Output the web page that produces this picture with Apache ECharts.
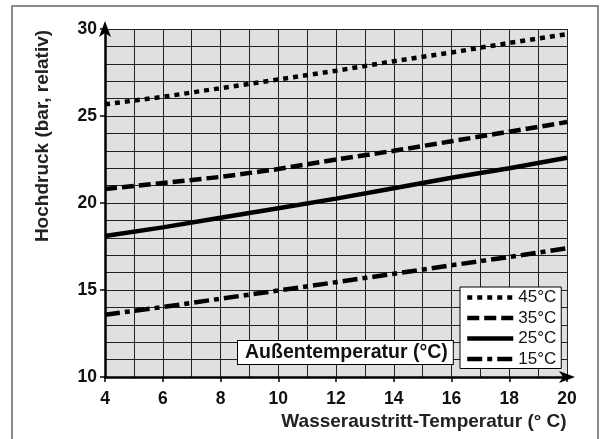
<!DOCTYPE html>
<html>
<head>
<meta charset="utf-8">
<script src="https://cdn.jsdelivr.net/npm/echarts@6/dist/echarts.min.js"></script>
<style>html,body{margin:0;padding:0;background:#fff;}#c{width:605px;height:439px;}</style>
</head>
<body>
<div id="c"></div>
<script>
// Data
const xValues = [4, 6, 8, 10, 12, 14, 16, 18, 20];
const s45 = [25.67, 26.1, 26.6, 27.1, 27.6, 28.15, 28.65, 29.2, 29.7];
const s35 = [20.8, 21.15, 21.5, 21.95, 22.5, 23.0, 23.55, 24.1, 24.65];
const s25 = [18.1, 18.6, 19.15, 19.7, 20.25, 20.85, 21.45, 22.0, 22.6];
const s15 = [13.58, 14.02, 14.5, 14.97, 15.45, 15.93, 16.42, 16.9, 17.4];
const seriesNames = ['45°C', '35°C', '25°C', '15°C'];
const xTicks = [4, 6, 8, 10, 12, 14, 16, 18, 20];
const yTicks = [10, 15, 20, 25, 30];
const xTitle = 'Wasseraustritt-Temperatur (° C)';
const yTitle = 'Hochdruck (bar, relativ)';
const legendTitle = 'Außentemperatur (°C)';

const FONT = '"Liberation Sans", Arial, Helvetica, sans-serif';
const pairs = arr => xValues.map((x, i) => [x, arr[i]]);
const dashes = [[5, 5], [12, 5], 'solid', [15, 5, 5, 5]];
const allData = [s45, s35, s25, s15];

const chart = echarts.init(document.getElementById('c'), null, {renderer: 'canvas'});
chart.setOption({
  animation: false,
  backgroundColor: '#fff',
  grid: {left: 105, right: 38, top: 29, bottom: 62, show: true, backgroundColor: '#e0e0e0', borderWidth: 0},
  xAxis: {
    type: 'value', min: xTicks[0], max: xTicks[xTicks.length - 1], interval: 2,
    axisLine: {show: true, lineStyle: {color: '#000', width: 2.5}, symbol: ['none', 'arrow'], symbolSize: [9, 16], symbolOffset: [0, 8]},
    axisTick: {show: true, length: 5, lineStyle: {color: '#000', width: 1.5}},
    minorTick: {show: false, splitNumber: 2},
    splitLine: {show: true, lineStyle: {color: '#222', width: 1}},
    minorSplitLine: {show: true, lineStyle: {color: '#222', width: 1}},
    axisLabel: {fontFamily: FONT, fontWeight: 'bold', fontSize: 17.5, color: '#111', margin: 13}
  },
  yAxis: {
    type: 'value', min: yTicks[0], max: yTicks[yTicks.length - 1], interval: 5,
    axisLine: {show: true, lineStyle: {color: '#000', width: 2.5}, symbol: ['none', 'arrow'], symbolSize: [9, 16], symbolOffset: [0, 8]},
    axisTick: {show: true, length: 5, lineStyle: {color: '#000', width: 1.5}},
    minorTick: {show: false, splitNumber: 5},
    splitLine: {show: true, lineStyle: {color: '#222', width: 1}},
    minorSplitLine: {show: true, lineStyle: {color: '#222', width: 1}},
    axisLabel: {fontFamily: FONT, fontWeight: 'bold', fontSize: 17.5, color: '#111', margin: 8}
  },
  legend: {
    orient: 'vertical', left: 460, top: 287,
    data: seriesNames,
    itemWidth: 46, itemHeight: 14, itemGap: 3.5,
    padding: [2, 5, 1, 5],
    backgroundColor: '#fff', borderColor: '#000', borderWidth: 1, borderRadius: 0,
    itemStyle: {color: 'rgba(0,0,0,0)', borderWidth: 0, opacity: 0},
    lineStyle: {width: 4.5, color: '#000'},
    textStyle: {fontFamily: FONT, fontSize: 17, color: '#111'}
  },
  series: seriesNames.map((n, i) => ({
    name: n, type: 'line', data: pairs(allData[i]),
    symbol: 'none', showSymbol: false, smooth: false,
    lineStyle: {color: '#000', width: 4.5, type: dashes[i], cap: 'butt'},
    itemStyle: {color: '#000'},
    z: 3
  })),
  graphic: [
    {type: 'polyline', shape: {points: [[12, 439], [12, 6], [598, 6], [598, 439]]}, style: {stroke: '#666', lineWidth: 1.5, fill: null}, silent: true},
    {type: 'text', x: 43, y: 136, rotation: Math.PI / 2,
     style: {text: yTitle, font: 'bold 19px ' + FONT, fill: '#222', textAlign: 'center', textVerticalAlign: 'middle'}},
    {type: 'text', x: 424, y: 422,
     style: {text: xTitle, font: 'bold 19px ' + FONT, fill: '#222', textAlign: 'center', textVerticalAlign: 'middle'}},
    {type: 'text', x: 238, y: 341, z: 10,
     style: {text: legendTitle, font: 'bold 19.5px ' + FONT, fill: '#111', textAlign: 'left', textVerticalAlign: 'top',
             backgroundColor: '#fff', borderColor: '#000', borderWidth: 1, padding: [2, 5, 1, 7]}}
  ]
});
</script>
</body>
</html>
